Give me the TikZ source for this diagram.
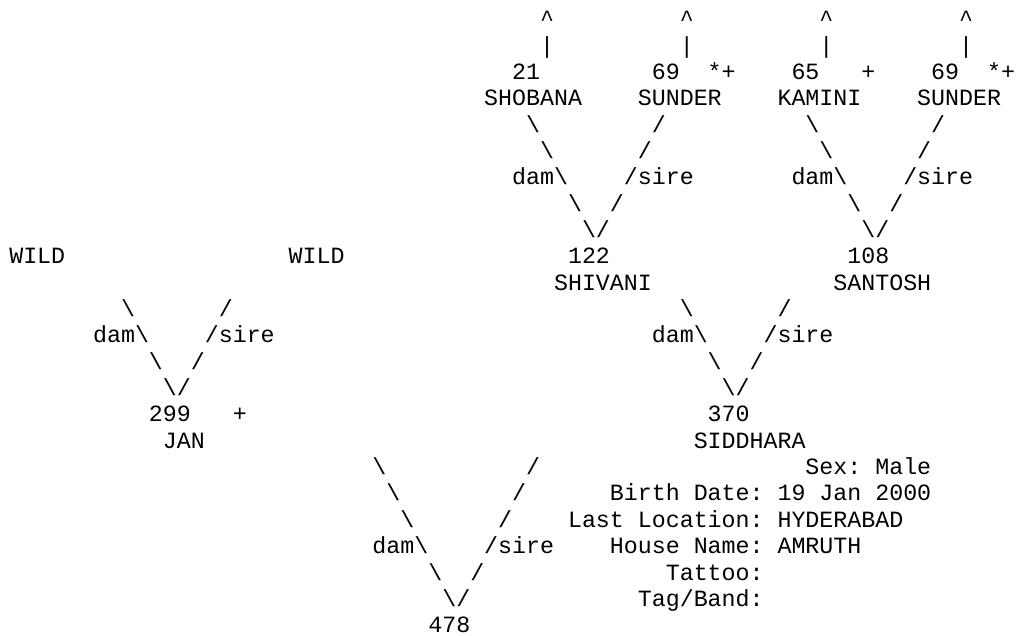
\documentclass[tikz,border=0pt]{standalone}
\usepackage{fontspec}
\newfontfamily\pedmono{Liberation Mono}
\usepackage{tikz}
\usetikzlibrary{positioning}
\frenchspacing
\tikzset{
  ch/.style  ={font=\pedmono\fontsize{17.5}{19.8}\selectfont,inner sep=0pt,
               outer sep=0pt,anchor=base west,text=black},
  lab/.style ={ch,anchor=base east},
}

\begin{document}
\begin{tikzpicture}[x=10.5pt,y=-19.8pt]
\useasboundingbox (-0.6667,-1.02) rectangle (72.2857,23.11);

% great-grand-parents, each line running on up off the chart
\foreach \c/\nm in {38/shobana,48/sunderA,58/kamini,68/sunderB}{
  \node[ch] (arr-\nm) at (\c,0) {\textasciicircum};
  \node[ch] (bar-\nm) at (\c,1) {\textbar};
}
\node[ch] (n21)     at (36,2) {21};
\node[ch] (n69a)    at (46,2) {69};
\node[ch] (f69a)    at (50,2) {*+};
\node[ch] (n65)     at (56,2) {65};
\node[ch] (f65)     at (61,2) {+};
\node[ch] (n69b)    at (66,2) {69};
\node[ch] (f69b)    at (70,2) {*+};
\node[ch] (shobana) at (34,3) {SHOBANA};
\node[ch] (sunderA) at (45,3) {SUNDER};
\node[ch] (kamini)  at (55,3) {KAMINI};
\node[ch] (sunderB) at (65,3) {SUNDER};

% dam / sire legs down to 122 and 108
\foreach \o/\id in {0/122,20/108}{
  \foreach \i in {0,...,4}{
    \node[ch] (dam\id-\i)  at (37+\o+\i,4+\i) {\textbackslash};
    \node[ch] (sire\id-\i) at (46+\o-\i,4+\i) {/};
  }
  \node[lab] (damlab\id)  at (dam\id-2.base west)  {dam};
  \node[ch]  (sirelab\id) at (sire\id-2.base east) {sire};
}
\node[ch] (wildA)   at (0,9)   {WILD};
\node[ch] (wildB)   at (20,9)  {WILD};
\node[ch] (n122)    at (40,9)  {122};
\node[ch] (n108)    at (60,9)  {108};
\node[ch] (shivani) at (39,10) {SHIVANI};
\node[ch] (santosh) at (59,10) {SANTOSH};

% legs down to 299 and 370
\foreach \o/\id in {0/299,40/370}{
  \foreach \i in {0,...,3}{
    \node[ch] (dam\id-\i)  at (8+\o+\i,11+\i)  {\textbackslash};
    \node[ch] (sire\id-\i) at (15+\o-\i,11+\i) {/};
  }
  \node[lab] (damlab\id)  at (dam\id-1.base west)  {dam};
  \node[ch]  (sirelab\id) at (sire\id-1.base east) {sire};
}
\node[ch] (n299)     at (10,15) {299};
\node[ch] (f299)     at (16,15) {+};
\node[ch] (jan)      at (11,16) {JAN};
\node[ch] (n370)     at (50,15) {370};
\node[ch] (siddhara) at (49,16) {SIDDHARA};

% last legs down to 478
\foreach \i in {0,...,5}{
  \node[ch] (dam478-\i)  at (26+\i,17+\i) {\textbackslash};
  \node[ch] (sire478-\i) at (37-\i,17+\i) {/};
}
\node[lab] (damlab478)  at (dam478-3.base west)  {dam};
\node[ch]  (sirelab478) at (sire478-3.base east) {sire};
\node[ch]  (n478)       at (30,23) {478};

% record of 478
\node[ch] (sex)    at (57,17) {Sex: Male};
\node[ch] (bdate)  at (43,18) {Birth Date: 19 Jan 2000};
\node[ch] (loc)    at (40,19) {Last Location: HYDERABAD};
\node[ch] (house)  at (43,20) {House Name: AMRUTH};
\node[ch] (tattoo) at (47,21) {Tattoo:};
\node[ch] (band)   at (45,22) {Tag/Band:};
\end{tikzpicture}
\end{document}
